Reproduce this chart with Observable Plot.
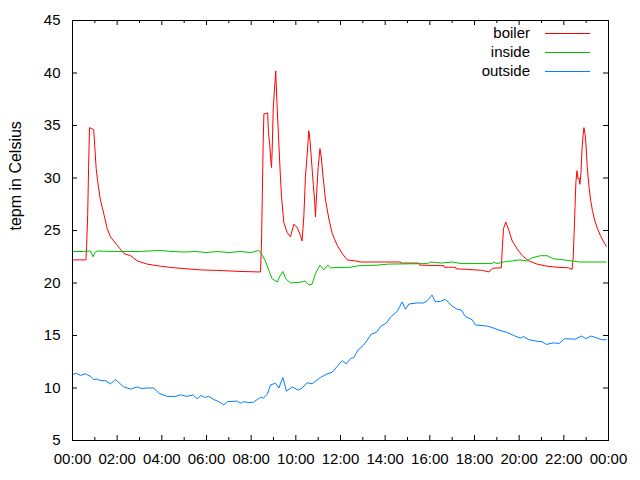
<!DOCTYPE html>
<html><head><meta charset="utf-8">
<script src="https://cdn.jsdelivr.net/npm/d3@7"></script>
<script src="https://cdn.jsdelivr.net/npm/@observablehq/plot@0.6"></script>
<style>body{margin:0;background:#fff}</style>
</head><body><div id="chart"></div>
<script>
const xTicks = [0, 2, 4, 6, 8, 10, 12, 14, 16, 18, 20, 22, 24];
const xTickLabels = ["00:00","02:00","04:00","06:00","08:00","10:00","12:00","14:00","16:00","18:00","20:00","22:00","00:00"];
const xMinorTicks = [1, 3, 5, 7, 9, 11, 13, 15, 17, 19, 21, 23];
const yTicks = [5, 10, 15, 20, 25, 30, 35, 40, 45];
const yLabel = "tepm in Celsius";
const seriesNames = ["boiler", "inside", "outside"];
const seriesColors = ["#ff0000", "#00c000", "#0080ff"];

const boilerHours = [0,0.6,0.63,0.68,0.72,0.76,0.95,1.06,1.12,1.25,1.40,1.55,1.70,2.0,2.3,2.6,2.9,3.34,3.94,4.54,5.13,5.73,6.5,7.5,8.42,8.47,8.50,8.54,8.57,8.74,8.77,8.83,8.88,8.91,8.94,8.99,9.04,9.10,9.17,9.24,9.31,9.36,9.46,9.61,9.76,9.91,10.06,10.21,10.28,10.36,10.43,10.51,10.58,10.63,10.69,10.78,10.84,10.88,10.93,11.0,11.08,11.14,11.22,11.33,11.48,11.63,11.85,12.08,12.3,12.67,12.9,14.69,14.7,15.5,15.55,16.63,16.65,17.15,17.17,17.67,18.35,18.65,18.8,19.2,19.25,19.3,19.4,19.54,19.69,19.91,20.14,20.43,20.8,21.25,21.7,22.2,22.37,22.42,22.46,22.50,22.54,22.59,22.64,22.68,22.72,22.77,22.81,22.86,22.90,22.95,22.99,23.05,23.13,23.2,23.28,23.38,23.5,23.64,23.79,23.9];
const boilerTemps = [22.2,22.2,23.4,26.5,31,34.8,34.6,30.9,29.8,27.9,26.6,25.2,24.4,23.6,22.8,22.6,22.1,21.8,21.6,21.45,21.35,21.25,21.2,21.1,21.05,24.5,28.5,33.6,36.1,36.2,34.4,33.25,31.7,31.0,32.6,36.7,38.3,40.2,36.4,33.25,30.1,28.2,25.8,24.8,24.4,25.6,25.3,24.5,24.0,26.4,30.1,32.3,34.5,33.7,32.0,29.4,27.9,26.3,28.5,31.0,32.8,32.0,30.1,27.9,26.1,24.7,23.6,22.8,22.2,22.1,22.0,22.0,21.9,21.9,21.7,21.65,21.5,21.5,21.35,21.3,21.2,21.05,21.4,21.45,23.5,25.2,25.8,25.0,24.0,23.25,22.6,22.1,21.8,21.6,21.5,21.45,21.3,22.45,24.7,27.2,29.6,30.7,29.9,30.0,29.4,30.55,32.6,34.0,34.8,34.2,33.25,31.0,29.1,27.9,26.9,26.0,25.2,24.5,23.9,23.5];

const insideHours = [0,0.5,0.8,0.92,1.0,1.1,2.0,3.0,3.9,4.5,5.0,5.5,6.0,6.5,7.0,7.5,8.0,8.34,8.45,8.64,8.79,8.94,9.17,9.30,9.42,9.55,9.76,10.28,10.4,10.58,10.73,10.88,11.08,11.25,11.43,11.55,12.45,12.82,13.64,14.16,15.9,16.03,16.5,17.0,17.4,18.8,18.87,19.0,19.39,19.69,19.99,20.36,20.58,20.96,21.25,21.55,22.0,22.37,22.7,23.9];
const insideTemps = [23.0,23.0,23.05,22.5,22.9,23.05,23.0,23.0,23.1,23.0,22.95,23.0,22.9,23.0,22.9,23.0,22.9,23.1,22.8,22.1,21.2,20.4,20.1,20.7,21.1,20.4,20.0,20.1,20.2,19.8,19.9,20.9,21.7,21.25,21.7,21.45,21.5,21.65,21.7,21.8,21.85,22.0,21.9,22.0,21.85,21.85,22.0,21.85,22.05,22.1,22.2,22.1,22.4,22.6,22.6,22.3,22.2,22.1,22.0,22.0];

const outsideHours = [0.0,0.17,0.35,0.58,0.81,0.95,1.1,1.25,1.48,1.7,1.93,2.08,2.3,2.6,2.9,3.1,3.34,3.64,3.87,4.24,4.61,4.84,5.13,5.4,5.58,5.76,5.91,6.1,6.33,6.55,6.78,6.93,7.37,7.52,7.67,7.9,8.1,8.27,8.42,8.55,8.72,8.87,9.09,9.24,9.42,9.58,9.84,10.1,10.28,10.51,10.73,11.1,11.4,11.63,11.85,12.08,12.26,12.45,12.6,12.78,13.04,13.39,13.61,13.79,14.06,14.24,14.54,14.76,14.91,15.06,15.43,15.73,15.88,16.1,16.25,16.48,16.7,17.0,17.22,17.4,17.6,17.9,18.04,18.57,18.87,19.1,19.46,19.76,20.06,20.2,20.43,20.8,21.03,21.22,21.55,21.8,22.03,22.52,22.8,22.98,23.22,23.49,23.7,23.9];
const outsideTemps = [11.3,11.4,11.2,11.35,11.1,10.8,10.85,10.7,10.7,10.4,10.8,10.5,10.1,9.9,10.1,9.95,10.0,10.0,9.5,9.2,9.2,9.35,9.2,9.35,8.97,9.3,9.1,9.2,8.9,8.7,8.4,8.7,8.75,8.55,8.7,8.6,8.65,8.9,9.1,9.05,9.4,10.3,10.45,10.0,11.0,9.7,10.1,9.8,10.0,10.5,10.4,11.0,11.35,11.5,12.05,12.6,12.3,12.8,12.9,13.6,14.1,15.15,15.3,15.85,16.2,16.75,17.3,18.2,17.5,18.0,18.1,18.1,18.3,18.85,18.2,18.25,18.45,17.8,17.5,17.45,16.8,16.5,16.0,15.9,15.7,15.5,15.3,15.0,14.75,14.9,14.6,14.45,14.4,14.15,14.3,14.25,14.7,14.65,14.95,14.7,14.95,14.75,14.6,14.6];

const toRows = (hs, vs, s) => hs.map((h, i) => ({h, v: vs[i], s}));
const rows = [
  ...toRows(boilerHours, boilerTemps, seriesNames[0]),
  ...toRows(insideHours, insideTemps, seriesNames[1]),
  ...toRows(outsideHours, outsideTemps, seriesNames[2])
];

const legendMark = (index, scales, values, dimensions) => {
  const g = d3.create("svg:g");
  const right = dimensions.width - dimensions.marginRight;
  seriesNames.forEach((name, i) => {
    const y = dimensions.marginTop + 13 + i * 19;
    g.append("text").attr("x", right - 78).attr("y", y).attr("dy", "0.35em")
      .attr("text-anchor", "end").attr("fill", "black").text(name);
    g.append("line").attr("x1", right - 63).attr("x2", right - 18)
      .attr("y1", y + 0.5).attr("y2", y + 0.5).attr("stroke", seriesColors[i]).attr("stroke-width", 1);
  });
  return g.node();
};

const chart = Plot.plot({
  width: 640,
  height: 480,
  marginLeft: 72,
  marginRight: 32,
  marginTop: 20,
  marginBottom: 40,
  style: {fontFamily: "Liberation Sans", fontSize: "15px", background: "white", color: "black"},
  x: {domain: [0, 24]},
  y: {domain: [5, 45]},
  color: {domain: seriesNames, range: seriesColors},
  marks: [
    Plot.line(rows, {x: "h", y: "v", z: "s", stroke: "s", strokeWidth: 1}),
    Plot.frame({stroke: "black", strokeWidth: 1}),
    Plot.tickX(xTicks, {x: d => d, insetTop: 415, stroke: "black"}),
    Plot.tickX(xTicks, {x: d => d, insetBottom: 415, stroke: "black"}),
    Plot.tickX(xMinorTicks, {x: d => d, insetTop: 417, stroke: "black"}),
    Plot.tickX(xMinorTicks, {x: d => d, insetBottom: 417, stroke: "black"}),
    Plot.tickY(yTicks, {y: d => d, insetRight: 531, stroke: "black"}),
    Plot.tickY(yTicks, {y: d => d, insetLeft: 531, stroke: "black"}),
    Plot.axisX({ticks: xTicks, tickSize: 0, tickPadding: 13, label: null,
      tickFormat: d => xTickLabels[xTicks.indexOf(d)]}),
    Plot.axisY({ticks: yTicks, tickSize: 0, tickPadding: 12, label: null}),
    Plot.text([yLabel], {text: d => d, frameAnchor: "left", rotate: -90, dx: -57, fill: "black", fontSize: 16}),
    legendMark
  ]
});
document.getElementById("chart").appendChild(chart);
</script>
</body></html>
